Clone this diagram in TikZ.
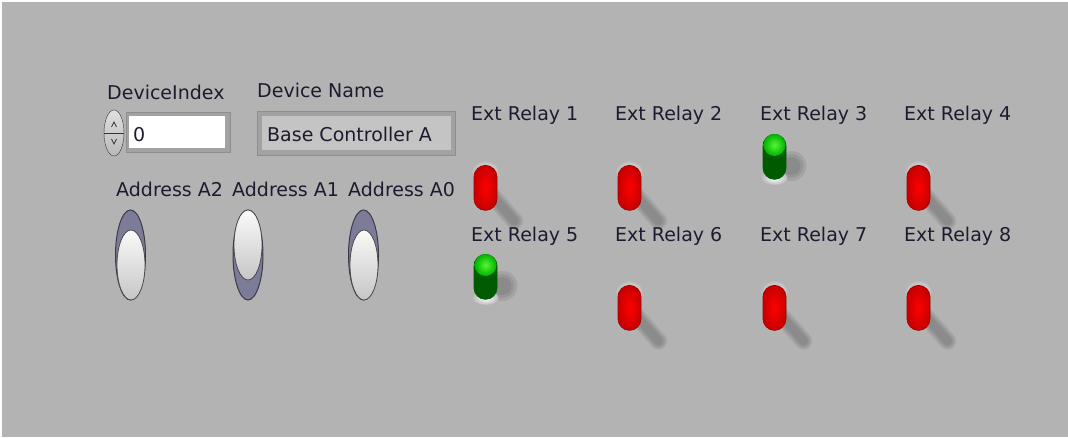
\documentclass[tikz,border=0pt]{standalone}
\usepackage{fontspec}
\setmainfont{DejaVu Sans}
\usetikzlibrary{shapes,backgrounds,positioning}

\definecolor{panel}{HTML}{B3B3B3}
\definecolor{labelink}{HTML}{1C1C30}
\definecolor{framegray}{HTML}{A2A2A2}
\definecolor{framedark}{HTML}{8E8E8E}
\definecolor{insetgray}{HTML}{C4C4C4}
\definecolor{slotblue}{HTML}{7C7C98}
\definecolor{slotedge}{HTML}{3A3A48}
\definecolor{knobedge}{HTML}{4A4A4A}
\definecolor{leverred}{HTML}{FF0000}
\definecolor{leverredrim}{HTML}{C80000}
\definecolor{levergreen}{HTML}{009A00}
\definecolor{levergreenrim}{HTML}{005A00}
\definecolor{capgreen}{HTML}{55F535}

\newcommand\panelfont{\fontsize{19}{22}\selectfont}

% lever pointing down (off): name, centre x, top y
\newcommand\relayoff[3]{%
  \foreach \w in {17,13,9}
    \draw[leadshadow, line width=\w pt] ({#2+6},{#3+30}) -- ({#2+29},{#3+56});
  \node[leverbase, minimum width=26, minimum height=22] (#1base) at (#2,{#3+7}) {};
  \node[leverbody, inner color=leverred, outer color=leverredrim,
        draw=leverredrim!80!black, anchor=north] (#1) at (#2,#3) {};
}
% lever pointing up (on): name, centre x, top y
\newcommand\relayon[3]{%
  \foreach \r in {15,12,9}
    \fill[black, opacity=.08] ({#2+17},{#3+32}) circle (\r);
  \node[leverbase, minimum width=26, minimum height=14] (#1base) at (#2,{#3+44}) {};
  \node[leverbody, left color=levergreenrim, middle color=levergreen,
        right color=levergreenrim, draw=levergreenrim, anchor=north] (#1) at (#2,#3) {};
  \node[ellipse, inner sep=0, minimum width=22, minimum height=22,
        inner color=capgreen, outer color=green!70!black] (#1cap) at (#2,{#3+11}) {};
}

\begin{document}
\begin{tikzpicture}[x=1pt,y=-1pt,
  lbl/.style={font=\panelfont, text=labelink, inner sep=0pt, anchor=base west},
  slot/.style={ellipse, inner sep=0, fill=slotblue, draw=slotedge, line width=1pt,
    minimum width=30, minimum height=90},
  knob/.style={ellipse, inner sep=0, top color=white!96!gray, bottom color=gray!45,
    draw=knobedge, line width=.8pt, minimum width=28, minimum height=70},
  leadshadow/.style={draw=black, opacity=.08, line cap=round},
  leverbase/.style={ellipse, inner sep=0, inner color=white, outer color=gray!55},
  leverbody/.style={rectangle, rounded corners=11.5pt, inner sep=0, line width=.7pt,
    minimum width=23, minimum height=45},
  bevel/.style={rectangle, inner sep=0, anchor=north west, fill=framegray,
    draw=framedark, line width=1pt},
]
\useasboundingbox (0,0) rectangle (1068,438);
\fill[white] (0,0) rectangle (1068,438);
\fill[panel] (2,2) rectangle (1068,437);

% numeric control
\node[lbl] (indexlabel) at (107,100) {DeviceIndex};
\node[bevel, minimum width=104, minimum height=40] (indexframe) at (126,112) {};
\node[rectangle, fill=white, inner sep=0, minimum width=96, minimum height=32,
      anchor=north west] (indexbox) at (129,116) {};
\node[lbl] (indexvalue) at (133,142) {0};
\node[ellipse, inner sep=0, minimum width=20, minimum height=46,
      top color=gray!25, bottom color=gray!55, draw=gray!45!black] (spinner) at (114,133) {};
\draw[gray!40!black, line width=.6pt] (spinner.west) -- (spinner.east);
\draw[gray!40!black, line width=.8pt] (111.5,127) -- (114,122) -- (116.5,127);
\draw[gray!40!black, line width=.8pt] (111.5,139) -- (114,144) -- (116.5,139);

% string indicator
\node[lbl] (namelabel) at (257,98) {Device Name};
\node[bevel, minimum width=198, minimum height=44] (nameframe) at (257,111) {};
\node[rectangle, fill=insetgray, inner sep=0, minimum width=189, minimum height=34,
      anchor=north west] (namebox) at (262,116) {};
\node[lbl] (namevalue) at (267,142) {Base Controller A};

% address switches
\node[lbl] (addrlabel2) at (116,197) {Address A2};
\node[lbl] (addrlabel1) at (232,197) {Address A1};
\node[lbl] (addrlabel0) at (348,197) {Address A0};
\node[slot] (slotA2) at (130.5,255) {};
\node[slot] (slotA1) at (248,255) {};
\node[slot] (slotA0) at (363.5,255) {};
\node[knob] (knobA2) at (131,265) {};
\node[knob] (knobA1) at (248,245) {};
\node[knob] (knobA0) at (364,265) {};

% relay labels
\foreach \i/\x/\y in {1/471/121, 2/615/121, 3/760/121, 4/904/121,
                      5/471/242, 6/615/242, 7/760/242, 8/904/242}
  \node[lbl] (relay\i) at (\x,\y) {Ext Relay \i};

% relay levers
\relayoff{lever1}{485.5}{165}
\relayoff{lever2}{629.5}{165}
\relayon{lever3}{774.5}{134}
\relayoff{lever4}{918.5}{165}
\relayon{lever5}{485.5}{254}
\relayoff{lever6}{629.5}{285}
\relayoff{lever7}{774.5}{285}
\relayoff{lever8}{918.5}{285}

\end{tikzpicture}
\end{document}
